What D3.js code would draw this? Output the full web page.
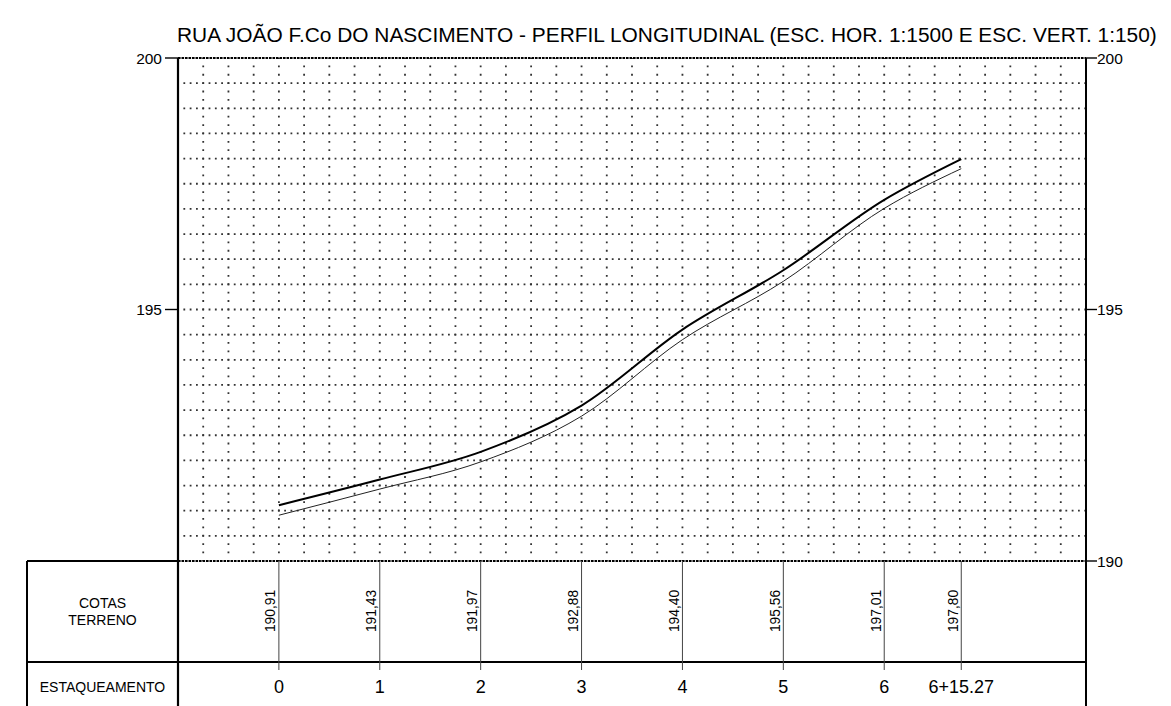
<!DOCTYPE html>
<html>
<head>
<meta charset="utf-8">
<script src="https://cdn.jsdelivr.net/npm/d3@7"></script>
<style>
  html, body { margin: 0; padding: 0; background: #fff; }
  svg { display: block; font-family: "Liberation Sans", Arial, sans-serif; }
</style>
</head>
<body>
<svg id="chart" width="1171" height="706"></svg>
<script>
// ---- data ----
const stationMeters = [0, 20, 40, 60, 80, 100, 120, 135.27];
const stationLabels = ["0", "1", "2", "3", "4", "5", "6", "6+15.27"];
const terrainElev = [190.91, 191.43, 191.97, 192.88, 194.40, 195.56, 197.01, 197.80];
const gradeElev = [191.11, 191.62, 192.17, 193.09, 194.60, 195.78, 197.18, 197.99];
const yTickValues = [200, 195, 190];
const titleText = "RUA JOÃO F.Co DO NASCIMENTO - PERFIL LONGITUDINAL (ESC. HOR. 1:1500 E ESC. VERT. 1:150)";
const rowLabels = [["COTAS", "TERRENO"], ["ESTAQUEAMENTO"]];

// ---- layout ----
const svg = d3.select("#chart");
const pLeft = 178, pRight = 1086, pTop = 58, pBottom = 561;
const tableLeft = 27, rowSplit = 662, svgH = 706;

const x = d3.scaleLinear().domain([-20, 160]).range([pLeft, pRight]);
const y = d3.scaleLinear().domain([190, 200]).range([pBottom, pTop]);

// ---- grid ----
const grid = svg.append("g");
const hLines = d3.range(190.5, 200, 0.5);
grid.selectAll("line.h").data(hLines).enter().append("line")
  .attr("x1", pLeft).attr("x2", pRight)
  .attr("y1", d => y(d)).attr("y2", d => y(d))
  .attr("stroke", "#333").attr("stroke-width", 1.8)
  .attr("stroke-dasharray", "1.8 4.5")
  .attr("stroke-dashoffset", 0.9);
const vLines = d3.range(-15, 160, 5);
grid.selectAll("line.v").data(vLines).enter().append("line")
  .attr("x1", d => x(d)).attr("x2", d => x(d))
  .attr("y1", pTop).attr("y2", pBottom)
  .attr("stroke", "#333").attr("stroke-width", 1.8)
  .attr("stroke-dasharray", "1.8 6.58")
  .attr("stroke-dashoffset", 0.9);

// top / bottom borders (dense dashes)
[200, 190].forEach(v => {
  svg.append("line")
    .attr("x1", pLeft).attr("x2", pRight)
    .attr("y1", y(v)).attr("y2", y(v))
    .attr("stroke", "#000").attr("stroke-width", 1.8)
    .attr("stroke-dasharray", "2.6 0.9");
});

// ---- curves ----
const lineGen = (vals) => d3.line()
  .x((d, i) => x(stationMeters[i]))
  .y(d => y(d))
  .curve(d3.curveMonotoneX)(vals);

svg.append("path").attr("d", lineGen(terrainElev))
  .attr("fill", "none").attr("stroke", "#222").attr("stroke-width", 1);
svg.append("path").attr("d", lineGen(gradeElev))
  .attr("fill", "none").attr("stroke", "#000").attr("stroke-width", 2);

// ---- axes borders ----
svg.append("line").attr("x1", pLeft).attr("x2", pLeft).attr("y1", pTop).attr("y2", svgH)
  .attr("stroke", "#000").attr("stroke-width", 2.2);
svg.append("line").attr("x1", pRight).attr("x2", pRight).attr("y1", pTop).attr("y2", svgH)
  .attr("stroke", "#000").attr("stroke-width", 2);

// left ticks
const leftTicks = yTickValues.filter(v => v !== 190);
svg.selectAll("line.lt").data(leftTicks).enter().append("line")
  .attr("x1", pLeft - 13).attr("x2", pLeft)
  .attr("y1", d => y(d)).attr("y2", d => y(d))
  .attr("stroke", "#000").attr("stroke-width", 1.4);
svg.selectAll("text.lt").data(leftTicks).enter().append("text")
  .attr("x", pLeft - 16).attr("y", d => y(d))
  .attr("text-anchor", "end").attr("dominant-baseline", "central")
  .attr("font-size", 15.5).text(d => d);

// right ticks
svg.selectAll("line.rt").data(yTickValues).enter().append("line")
  .attr("x1", pRight).attr("x2", pRight + 11)
  .attr("y1", d => y(d)).attr("y2", d => y(d))
  .attr("stroke", "#000").attr("stroke-width", 1.4);
svg.selectAll("text.rt").data(yTickValues).enter().append("text")
  .attr("x", pRight + 11).attr("y", d => y(d))
  .attr("text-anchor", "start").attr("dominant-baseline", "central")
  .attr("font-size", 15.5).text(d => d);

// ---- title ----
svg.append("text").attr("x", 177).attr("y", 42)
  .attr("font-size", 20.9).attr("fill", "#000").text(titleText);

// ---- table ----
const tbl = svg.append("g").attr("stroke", "#000");
tbl.append("line").attr("x1", tableLeft).attr("x2", pLeft).attr("y1", pBottom).attr("y2", pBottom).attr("stroke-width", 2);
tbl.append("line").attr("x1", tableLeft).attr("x2", pRight).attr("y1", rowSplit).attr("y2", rowSplit).attr("stroke-width", 2);
tbl.append("line").attr("x1", tableLeft).attr("x2", tableLeft).attr("y1", pBottom).attr("y2", svgH).attr("stroke-width", 2);

tbl.selectAll("line.st").data(stationMeters).enter().append("line")
  .attr("x1", d => x(d)).attr("x2", d => x(d))
  .attr("y1", pBottom).attr("y2", rowSplit + 8)
  .attr("stroke", "#444").attr("stroke-width", 1);

const fmt = d3.format(".2f");
svg.selectAll("text.cota").data(terrainElev).enter().append("text")
  .attr("transform", (d, i) => `translate(${x(stationMeters[i]) - 3.5},611) rotate(-90)`)
  .attr("text-anchor", "middle")
  .attr("font-size", 13.8).text(d => fmt(d).replace(".", ","));

svg.selectAll("text.est").data(stationLabels).enter().append("text")
  .attr("x", (d, i) => x(stationMeters[i])).attr("y", 687)
  .attr("text-anchor", "middle").attr("dominant-baseline", "central")
  .attr("font-size", 18).text(d => d);

const labelX = (tableLeft + pLeft) / 2;
svg.append("text").attr("x", labelX).attr("y", 603).attr("text-anchor", "middle")
  .attr("dominant-baseline", "central").attr("font-size", 14).text(rowLabels[0][0]);
svg.append("text").attr("x", labelX).attr("y", 620).attr("text-anchor", "middle")
  .attr("dominant-baseline", "central").attr("font-size", 14).text(rowLabels[0][1]);
svg.append("text").attr("x", labelX).attr("y", 687).attr("text-anchor", "middle")
  .attr("dominant-baseline", "central").attr("font-size", 14).text(rowLabels[1][0]);
</script>
</body>
</html>
